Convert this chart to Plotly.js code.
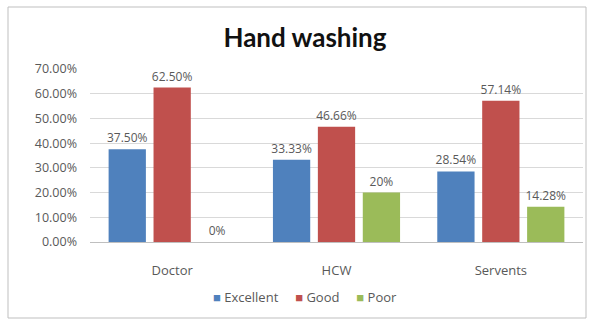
<!DOCTYPE html>
<html><head><meta charset="utf-8">
<script src="https://cdn.plot.ly/plotly-3.0.1.min.js"></script>
<style>html,body{margin:0;padding:0;background:#fff}#c{width:598px;height:319px}</style>
</head><body><div id="c"></div>
<script>
const categories = ["Doctor", "HCW", "Servents"];
const seriesNames = ["Excellent", "Good", "Poor"];
const excellent = [37.50, 33.33, 28.54];
const good = [62.50, 46.66, 57.14];
const poor = [0, 20, 14.28];
const excellentLabels = ["37.50%", "33.33%", "28.54%"];
const goodLabels = ["62.50%", "46.66%", "57.14%"];
const poorLabels = ["0%", "20%", "14.28%"];
const tickVals = [0, 10, 20, 30, 40, 50, 60, 70];
const tickText = ["0.00%", "10.00%", "20.00%", "30.00%", "40.00%", "50.00%", "60.00%", "70.00%"];

const font = "'Open Sans', sans-serif";
const colors = ["#4F81BD", "#C0504D", "#9BBB59"];
function mk(name, y, txt, color) {
  return {type: "bar", name: name, x: categories, y: y, text: txt,
    textposition: "outside", cliponaxis: false, constraintext: "none",
    textfont: {family: font, size: 12, color: "#595959"},
    marker: {color: color}, hoverinfo: "none", showlegend: false};
}
const data = [
  mk(seriesNames[0], excellent, excellentLabels, colors[0]),
  mk(seriesNames[1], good, goodLabels, colors[1]),
  mk(seriesNames[2], poor, poorLabels, colors[2])
];
const W = 493, H = 173, L = 90, T = 69;
const legendText = seriesNames.map((n, i) =>
  '<span style="color:' + colors[i] + '">■</span> ' + n).join('&nbsp;&nbsp;&nbsp;&nbsp;&nbsp;');
const layout = {
  width: 598, height: 319,
  margin: {l: L, r: 15, t: T, b: 77},
  paper_bgcolor: "#fff", plot_bgcolor: "#fff",
  title: {text: "<b>Hand washing</b>", x: 0.51, xanchor: "center", y: 0.88, yanchor: "middle",
    font: {family: "Lato, 'Open Sans', sans-serif", size: 26, color: "#111"}},
  barmode: "group", bargap: 0.18, bargroupgap: 0.17,
  xaxis: {showgrid: false, showline: true, linecolor: "#bfbfbf", ticks: "",
    tickfont: {family: font, size: 13, color: "#595959"}, ticklabelstandoff: 16},
  yaxis: {range: [0, 70], tickvals: tickVals, ticktext: tickText, showgrid: true,
    gridcolor: "#d9d9d9", zeroline: false, showline: false,
    tickfont: {family: font, size: 12.5, color: "#595959"}, ticklabelstandoff: 12},
  showlegend: false,
  annotations: [{xref: "paper", yref: "paper", x: (305 - L) / W, y: (T + H - 297) / H,
    xanchor: "center", yanchor: "middle", showarrow: false, text: legendText,
    font: {family: font, size: 13, color: "#595959"}}],
  shapes: [{type: "rect", xref: "paper", yref: "paper",
    x0: (8 - L) / W, x1: (586 - L) / W, y0: (T + H - 318) / H, y1: (T + H - 7) / H,
    line: {color: "#bfbfbf", width: 1}, layer: "below"}]
};
Plotly.newPlot("c", data, layout, {displayModeBar: false, staticPlot: true});
</script></body></html>
